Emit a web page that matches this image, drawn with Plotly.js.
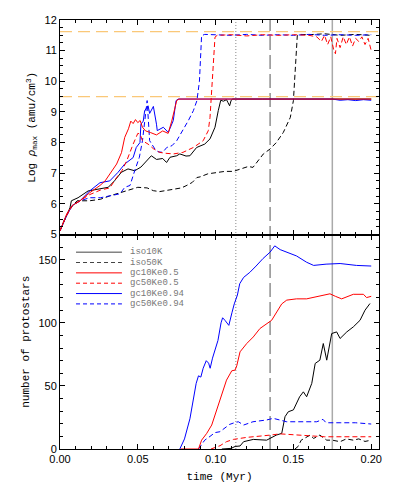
<!DOCTYPE html>
<html><head><meta charset="utf-8">
<script src="https://cdn.plot.ly/plotly-3.0.1.min.js"></script>
<style>body{margin:0;padding:0;background:#fff}#chart{width:399px;height:499px}</style>
</head><body><div id="chart"></div>
<script>
// ---------- series names / colours ----------
const names = ["iso10K","iso50K","gc10Ke0.5","gc50Ke0.5","gc10Ke0.94","gc50Ke0.94"];
const colors = ["#000000","#000000","#ff0000","#ff0000","#0000ff","#0000ff"];
const dashed = [false,true,false,true,false,true];

// ---------- top panel: Log rho_max vs time ----------
const rhoT_iso10K = [0,0.003,0.0064,0.0073,0.0116,0.018,0.0244,0.031,0.035,0.0394,0.0437,0.048,0.052,0.0555,0.0587,0.062,0.066,0.0685,0.0707,0.075,0.077,0.081,0.0835,0.0878,0.093,0.0964,0.0996,0.1017,0.1033,0.105,0.107,0.108,0.109,0.110,0.111,0.13,0.16,0.2];
const rhoV_iso10K = [5.12,5.5,5.87,6.1,6.2,6.42,6.48,6.54,6.75,7.03,7.14,7.08,7.2,7.4,7.57,7.45,7.48,7.35,7.52,7.57,7.63,7.56,7.57,7.84,7.95,8.12,8.5,9.04,9.38,9.35,9.4,9.3,9.2,9.38,9.42,9.42,9.42,9.42];

const rhoT_iso50K = [0,0.003,0.0064,0.011,0.019,0.026,0.032,0.038,0.045,0.050,0.056,0.060,0.064,0.068,0.073,0.078,0.081,0.085,0.088,0.090,0.095,0.1007,0.106,0.1114,0.117,0.121,0.124,0.1307,0.135,0.139,0.1435,0.148,0.150,0.151,0.152,0.1525,0.154,0.16,0.17,0.18,0.19,0.2];
const rhoV_iso50K = [5.12,5.5,5.85,6.1,6.1,6.15,6.26,6.35,6.48,6.54,6.52,6.43,6.4,6.43,6.49,6.52,6.59,6.7,6.86,6.88,6.98,7.03,7.06,7.06,7.15,7.22,7.19,7.63,7.79,8.0,8.33,8.82,9.37,10.35,11.33,11.49,11.53,11.52,11.55,11.5,11.53,11.5];

const rhoT_gc10Ke05 = [0,0.0043,0.008,0.0129,0.019,0.0257,0.029,0.033,0.0364,0.0395,0.0416,0.044,0.0455,0.047,0.0485,0.050,0.0515,0.053,0.055,0.058,0.062,0.066,0.0695,0.0718,0.075,0.0765,0.1,0.15,0.2];
const rhoV_gc10Ke05 = [5.12,5.67,5.95,6.1,6.36,6.6,6.75,7.05,7.3,7.67,8.17,8.45,8.7,8.62,8.75,8.65,8.72,8.5,8.38,8.33,8.25,8.38,8.3,8.7,9.37,9.42,9.42,9.42,9.42];

const rhoT_gc50Ke05 = [0,0.004,0.008,0.013,0.019,0.026,0.032,0.0364,0.040,0.0429,0.045,0.047,0.050,0.0514,0.053,0.0566,0.060,0.064,0.068,0.073,0.079,0.0857,0.092,0.0953,0.0964,0.0975,0.0985,0.0996,0.101,0.11,0.12,0.13,0.14,0.15,0.16,0.165,0.168,0.170,0.172,0.174,0.176,0.177,0.178,0.180,0.182,0.184,0.186,0.188,0.190,0.192,0.194,0.196,0.198,0.200];
const rhoV_gc50Ke05 = [5.12,5.6,5.95,6.1,6.3,6.45,6.52,6.86,7.1,7.41,7.7,7.95,8.3,8.28,8.06,7.95,7.8,7.68,7.65,7.63,7.68,7.84,8.06,8.39,8.82,9.8,10.68,11.44,11.5,11.52,11.48,11.52,11.5,11.52,11.5,11.45,11.3,11.5,11.2,11.45,11.0,10.9,11.4,11.1,11.45,11.2,11.45,11.15,11.4,11.3,11.45,11.2,11.4,11.0];

const rhoT_gc10Ke094 = [0,0.004,0.008,0.0129,0.019,0.0257,0.032,0.0373,0.0416,0.0448,0.047,0.049,0.0514,0.052,0.0535,0.0544,0.0566,0.0576,0.0587,0.060,0.062,0.0625,0.0664,0.0696,0.0728,0.0746,0.076,0.1,0.15,0.175,0.18,0.185,0.19,0.195,0.2];
const rhoV_gc10Ke094 = [5.12,5.6,5.95,6.1,6.42,6.69,6.75,7.03,7.3,7.41,7.51,7.84,8.0,8.6,8.7,9.04,9.2,8.95,9.04,9.18,8.6,8.39,8.5,8.33,8.72,9.37,9.42,9.42,9.42,9.42,9.38,9.4,9.37,9.4,9.38];

const rhoT_gc50Ke094 = [0,0.004,0.008,0.013,0.019,0.026,0.032,0.0386,0.0416,0.045,0.048,0.051,0.053,0.055,0.056,0.0576,0.061,0.063,0.066,0.0686,0.072,0.075,0.079,0.0825,0.0857,0.088,0.0896,0.0904,0.091,0.093,0.1,0.11,0.12,0.13,0.14,0.15,0.16,0.17,0.18,0.19,0.2];
const rhoV_gc50Ke094 = [5.12,5.6,5.95,6.1,6.2,6.2,6.26,6.33,6.54,6.6,7.08,7.52,8.06,8.84,9.37,8.06,7.79,7.7,7.68,7.84,7.9,8.06,8.39,8.72,9.04,9.37,10.0,10.9,11.49,11.53,11.52,11.5,11.53,11.5,11.52,11.5,11.53,11.5,11.52,11.5,11.52];

// ---------- bottom panel: number of protostars vs time ----------
const nT_iso10K = [0.104,0.110,0.1125,0.1157,0.118,0.1242,0.1328,0.136,0.139,0.1425,0.1446,0.1467,0.150,0.154,0.1564,0.1585,0.1618,0.164,0.167,0.1692,0.1714,0.1746,0.1778,0.180,0.1843,0.1885,0.1928,0.196,0.1992];
const nV_iso10K = [0,0.5,2,2.4,5.8,7.6,7,9,11,12.4,25.6,29.5,31,41.4,45.3,41.4,52,67.8,70.4,83.6,70.4,91.5,92.8,87.6,92.8,96.8,102,110,115.3];

const nT_iso50K = [0.151,0.153,0.155,0.1585,0.1607,0.163,0.167,0.1714,0.175,0.18,0.184,0.1885,0.192,0.196,0.2];
const nV_iso50K = [0,2,7,9.7,11,8.4,11,7,7,5.8,8,7,8,6,7];

const nT_gc10Ke05 = [0.0775,0.089,0.091,0.0943,0.0975,0.1007,0.104,0.107,0.1104,0.1125,0.1136,0.1157,0.12,0.1242,0.1285,0.1328,0.136,0.1393,0.1425,0.1457,0.152,0.1585,0.165,0.1735,0.177,0.181,0.1885,0.195,0.197,0.2];
const nV_gc10Ke05 = [0,0,7,12.4,19,31,44,54.6,62,62.5,66,77,83.6,88.8,95.5,99.4,102,108.6,115,118,119,119,120.5,123,121,119,122.6,122.6,120,121];

const nT_gc50Ke05 = [0.097,0.1028,0.107,0.1114,0.12,0.126,0.135,0.1414,0.1457,0.1585,0.17,0.18,0.19,0.2];
const nV_gc50Ke05 = [0,2.6,5.8,7.6,9.2,9.7,11,12,11.6,10.5,9.7,9.7,9.7,9.7];

const nT_gc10Ke094 = [0.077,0.080,0.0835,0.0855,0.0875,0.089,0.0905,0.092,0.094,0.0955,0.0965,0.098,0.100,0.1015,0.1035,0.1045,0.106,0.1085,0.1105,0.112,0.114,0.1155,0.118,0.122,0.126,0.1305,0.135,0.138,0.1415,0.1455,0.152,0.1585,0.163,0.171,0.180,0.1905,0.200];
const nV_gc10Ke094 = [0,8,24,38,52,58,57,64,70,68,64,72,80,86,100,104,102,98,108,115,122,131,136,140,145,151,156,161,158,156,153,148,145.5,146.5,147,145.5,145];

const nT_gc50Ke094 = [0.089,0.093,0.0964,0.0996,0.1028,0.106,0.109,0.1125,0.1146,0.118,0.124,0.1328,0.137,0.1457,0.155,0.165,0.169,0.171,0.18,0.19,0.2];
const nV_gc50Ke094 = [0,7,10,13,13.7,17,19.5,21,21.6,19,21.6,23,24.3,21.6,21.6,21.6,23.5,20.8,20.8,20.8,19.8];

// reference markers
const vlineTimes = [0.113,0.135,0.175];
const hlineRho = [11.62,9.5];

// ---------- build traces ----------
const topT = [rhoT_iso10K,rhoT_iso50K,rhoT_gc10Ke05,rhoT_gc50Ke05,rhoT_gc10Ke094,rhoT_gc50Ke094];
const topV = [rhoV_iso10K,rhoV_iso50K,rhoV_gc10Ke05,rhoV_gc50Ke05,rhoV_gc10Ke094,rhoV_gc50Ke094];
const botT = [nT_iso10K,nT_iso50K,nT_gc10Ke05,nT_gc50Ke05,nT_gc10Ke094,nT_gc50Ke094];
const botV = [nV_iso10K,nV_iso50K,nV_gc10Ke05,nV_gc50Ke05,nV_gc10Ke094,nV_gc50Ke094];
const drawOrder = [0,1,4,5,2,3];

const traces = [];
drawOrder.forEach(i => {
  const line = {color: colors[i], width: 1, dash: dashed[i] ? "5px,3px" : "solid"};
  traces.push({x: topT[i], y: topV[i], xaxis: "x2", yaxis: "y2", mode: "lines", line, name: names[i], showlegend: false, hoverinfo: "skip"});
  traces.push({x: botT[i], y: botV[i], xaxis: "x", yaxis: "y", mode: "lines", line, name: names[i], showlegend: false, hoverinfo: "skip"});
});

// ---------- shapes ----------
const shapes = [];
const vStyles = [
  {color: "#888888", width: 1, dash: "1px,2px"},
  {color: "#555555", width: 1, dash: "14px,5px"},
  {color: "#aaaaaa", width: 1.5, dash: "solid"}
];
vlineTimes.forEach((t, k) => shapes.push({type: "line", xref: "x", yref: "paper", x0: t, x1: t, y0: 0, y1: 1, line: vStyles[k], layer: "below"}));
hlineRho.forEach(v => shapes.push({type: "line", xref: "paper", yref: "y2", x0: 0, x1: 1, y0: v, y1: v, line: {color: "rgb(250,200,120)", width: 1.3, dash: "12px,6px"}, layer: "below"}));

// custom legend in bottom panel (data coords of bottom axes)
const annotations = [];
names.forEach((nm, i) => {
  const yy = 156 - i * 8.2;
  shapes.push({type: "line", xref: "x", yref: "y", x0: 0.0103, x1: 0.0398, y0: yy, y1: yy,
    line: {color: i < 2 ? "#444444" : colors[i], width: 1, dash: dashed[i] ? "4px,3px" : "solid"}});
  annotations.push({xref: "x", yref: "y", x: 0.0437, y: yy, text: nm, showarrow: false, xanchor: "left", yanchor: "middle",
    font: {family: "Liberation Mono, monospace", size: 9, color: "#777777"}});
});

const tickFont = {family: "Liberation Sans, Arial, sans-serif", size: 11, color: "#000"};
const titleFont = {family: "Liberation Mono, Courier New, monospace", size: 11, color: "#000"};
const common = {showline: true, linecolor: "#000", linewidth: 1, mirror: "allticks", ticks: "inside", ticklen: 5, tickcolor: "#000",
  showgrid: false, zeroline: false, tickfont: tickFont};

const layout = {
  width: 399, height: 499,
  margin: {l: 60, r: 20, t: 20, b: 50},
  paper_bgcolor: "#fff", plot_bgcolor: "#fff",
  showlegend: false,
  xaxis: Object.assign({}, common, {domain: [0, 1], anchor: "y", range: [0, 0.205], tick0: 0, dtick: 0.05, tickformat: ".2f",
    minor: {dtick: 0.01, ticklen: 3, ticks: "inside", tickcolor: "#000"},
    title: {text: "time (Myr)", font: titleFont, standoff: 8}}),
  yaxis: Object.assign({}, common, {domain: [0, 0.5], anchor: "x", range: [0, 170], tick0: 0, dtick: 50,
    minor: {dtick: 10, ticklen: 3, ticks: "inside", tickcolor: "#000"},
    title: {text: "number of protostars", font: titleFont, standoff: 6}}),
  xaxis2: Object.assign({}, common, {domain: [0, 1], anchor: "y2", matches: "x", range: [0, 0.205], tick0: 0, dtick: 0.05, showticklabels: false,
    minor: {dtick: 0.01, ticklen: 3, ticks: "inside", tickcolor: "#000"}}),
  yaxis2: Object.assign({}, common, {domain: [0.5, 1], anchor: "x2", range: [5, 12], tick0: 5, dtick: 1,
    minor: {dtick: 0.25, ticklen: 3, ticks: "inside", tickcolor: "#000"},
    title: {text: "Log <i>ρ</i><sub>max</sub> (amu/cm<sup>3</sup>)", font: titleFont, standoff: 6}}),
  shapes, annotations
};

Plotly.newPlot("chart", traces, layout, {staticPlot: true, displayModeBar: false});
</script></body></html>
